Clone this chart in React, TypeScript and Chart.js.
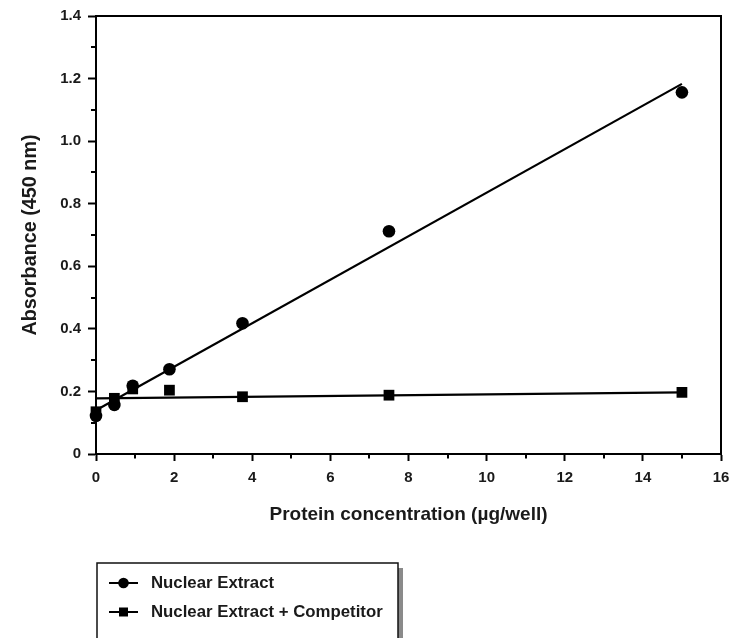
import { useEffect, useRef } from "react";
import { Chart, registerables } from "chart.js";

Chart.register(...registerables);

const FONT = '"Liberation Sans", Arial, Helvetica, sans-serif';

// Protein concentration (µg/well)
const concentrations = [0, 0.47, 0.94, 1.88, 3.75, 7.5, 15];
// Absorbance (450 nm)
const nuclearExtract = [0.122, 0.157, 0.218, 0.271, 0.418, 0.712, 1.156];
const nuclearExtractCompetitor = [0.135, 0.178, 0.208, 0.204, 0.183, 0.188, 0.197];

// regression lines (end points)
const fitX = [0, 15];
const nuclearExtractFit = [0.14, 1.183];
const competitorFit = [0.178, 0.197];

const seriesNames = ["Nuclear Extract", "Nuclear Extract + Competitor"];
const seriesStyles = ["circle", "rect"];

const xMinorTicks = [1, 3, 5, 7, 9, 11, 13, 15];
const yMinorTicks = [0.1, 0.3, 0.5, 0.7, 0.9, 1.1, 1.3];

const xTitle = "Protein concentration (µg/well)";
const yTitle = "Absorbance (450 nm)";

function toPoints(xs: number[], ys: number[]) {
  return xs.map((x, i) => ({ x, y: ys[i] }));
}

export default function App() {
  const ref = useRef<HTMLCanvasElement>(null);

  useEffect(() => {
    const canvas = ref.current;
    if (!canvas) return;

    const decorations = {
      id: "decorations",
      afterDraw(chart: any) {
        const { ctx, chartArea } = chart;
        const xs = chart.scales.x;
        const ys = chart.scales.y;
        ctx.save();
        ctx.strokeStyle = "#000";
        ctx.lineWidth = 2;
        // frame top/right
        ctx.beginPath();
        ctx.moveTo(chartArea.left - 1, chartArea.top);
        ctx.lineTo(chartArea.right, chartArea.top);
        ctx.lineTo(chartArea.right, chartArea.bottom + 1);
        ctx.stroke();
        // minor ticks
        ctx.beginPath();
        for (const v of xMinorTicks) {
          const px = Math.round(xs.getPixelForValue(v));
          ctx.moveTo(px, chartArea.bottom);
          ctx.lineTo(px, chartArea.bottom + 4.5);
        }
        for (const v of yMinorTicks) {
          const py = Math.round(ys.getPixelForValue(v));
          ctx.moveTo(chartArea.left, py);
          ctx.lineTo(chartArea.left - 5, py);
        }
        ctx.stroke();

        // legend box
        const bx = 97, by = 563, bw = 301, bh = 90;
        ctx.fillStyle = "#8a8a8a";
        ctx.fillRect(bx + bw, by + 5, 5, bh);
        ctx.fillStyle = "#fff";
        ctx.fillRect(bx, by, bw, bh);
        ctx.lineWidth = 1.5;
        ctx.strokeStyle = "#111";
        ctx.strokeRect(bx, by, bw, bh);

        const rows = [583, 612];
        ctx.font = `bold 16.8px ${FONT}`;
        ctx.textBaseline = "middle";
        ctx.textAlign = "left";
        rows.forEach((ry, i) => {
          ctx.strokeStyle = "#000";
          ctx.lineWidth = 2;
          ctx.beginPath();
          ctx.moveTo(109, ry);
          ctx.lineTo(138, ry);
          ctx.stroke();
          ctx.fillStyle = "#000";
          ctx.beginPath();
          if (seriesStyles[i] === "circle") {
            ctx.arc(123.5, ry, 5.3, 0, Math.PI * 2);
          } else {
            ctx.rect(119, ry - 4.5, 9, 9);
          }
          ctx.fill();
          ctx.fillStyle = "#1a1a1a";
          ctx.fillText(seriesNames[i], 151, ry + 0.5);
        });
        ctx.restore();
      },
    };

    const tickFont = { family: FONT, size: 15, weight: "bold" as const };
    const xTitleFont = { family: FONT, size: 19, weight: "bold" as const };
    const yTitleFont = { family: FONT, size: 19.8, weight: "bold" as const };

    const chart = new Chart(canvas, {
      type: "scatter",
      data: {
        datasets: [
          {
            label: seriesNames[0],
            data: toPoints(concentrations, nuclearExtract),
            pointStyle: "circle",
            pointRadius: 6.3,
            pointHoverRadius: 6.3,
            backgroundColor: "#000",
            borderColor: "#000",
            borderWidth: 0,
            showLine: false,
            clip: false as any,
            order: 0,
          },
          {
            label: seriesNames[1],
            data: toPoints(concentrations, nuclearExtractCompetitor),
            pointStyle: "rect",
            pointRadius: 7.6,
            pointHoverRadius: 7.6,
            backgroundColor: "#000",
            borderColor: "#000",
            borderWidth: 0,
            showLine: false,
            clip: false as any,
            order: 1,
          },
          {
            label: "fit1",
            data: toPoints(fitX, nuclearExtractFit),
            showLine: true,
            pointRadius: 0,
            borderColor: "#000",
            borderWidth: 2.2,
            clip: false as any,
            order: 2,
          },
          {
            label: "fit2",
            data: toPoints(fitX, competitorFit),
            showLine: true,
            pointRadius: 0,
            borderColor: "#000",
            borderWidth: 2.2,
            clip: false as any,
            order: 3,
          },
        ],
      },
      options: {
        animation: false,
        responsive: false,
        layout: { padding: { top: 16, right: 11, bottom: 0, left: 0 } },
        plugins: {
          legend: { display: false },
          tooltip: { enabled: false },
        },
        scales: {
          x: {
            type: "linear",
            min: 0,
            max: 16,
            afterFit: (s: any) => {
              s.height = 184;
              s.paddingLeft = 0;
              s.paddingRight = 0;
            },
            ticks: {
              stepSize: 2,
              font: tickFont,
              color: "#1a1a1a",
              padding: 8,
              maxRotation: 0,
            },
            grid: {
              display: true,
              drawOnChartArea: false,
              drawTicks: true,
              tickLength: 7,
              tickWidth: 2,
              tickColor: "#000",
            },
            border: { display: true, color: "#000", width: 2 },
            title: {
              display: true,
              text: xTitle,
              font: xTitleFont,
              color: "#1a1a1a",
              padding: { top: 0, bottom: 112 },
            },
          },
          y: {
            type: "linear",
            min: 0,
            max: 1.4,
            afterFit: (s: any) => {
              s.width = 96;
            },
            ticks: {
              stepSize: 0.2,
              font: tickFont,
              color: "#1a1a1a",
              padding: 7,
              callback: (v: any) => (Number(v) === 0 ? "0" : Number(v).toFixed(1)),
            },
            grid: {
              display: true,
              drawOnChartArea: false,
              drawTicks: true,
              tickLength: 8,
              tickWidth: 2,
              tickColor: "#000",
            },
            border: { display: true, color: "#000", width: 2 },
            title: {
              display: true,
              text: yTitle,
              font: yTitleFont,
              color: "#1a1a1a",
              padding: { top: 19, bottom: 0 },
            },
          },
        },
      },
      plugins: [decorations],
    });

    return () => chart.destroy();
  }, []);

  return (
    <canvas
      ref={ref}
      width={732}
      height={638}
      style={{ position: "absolute", left: 0, top: 0, width: 732, height: 638, background: "#fff" }}
    />
  );
}
